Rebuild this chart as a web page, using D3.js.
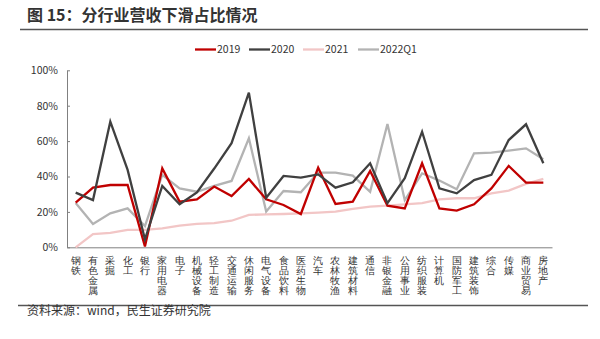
<!DOCTYPE html>
<html><head><meta charset="utf-8">
<script src="https://cdn.jsdelivr.net/npm/d3@7"></script>
<style>body{margin:0;background:#fff;} svg{display:block;font-family:"Noto Sans CJK SC","Microsoft YaHei",sans-serif;}</style>
</head><body>
<svg id="c" width="600" height="339"></svg>
<script>
const categories = ["钢铁","有色金属","采掘","化工","银行","家用电器","电子","机械设备","轻工制造","交通运输","休闲服务","电气设备","食品饮料","医药生物","汽车","农林牧渔","建筑材料","通信","非银金融","公用事业","纺织服装","计算机","国防军工","建筑装饰","综合","传媒","商业贸易","房地产"];
const s2019 = [25.2,33.7,35.2,35.2,0.5,44.6,25.8,27.1,34.3,29.0,38.6,27.1,23.9,18.8,45.0,24.5,25.8,43.1,23.5,22.0,47.5,22.0,20.7,24.3,33.3,46.0,36.5,36.5];
const s2020 = [30.9,26.7,71.0,43.7,4.5,34.7,24.3,31.0,44.5,58.8,87.4,28.0,40.3,39.4,41.2,33.7,36.7,47.5,24.9,39.0,65.3,33.3,30.5,38.0,40.9,60.6,69.5,47.5];
const s2021 = [0,7.5,8.1,9.8,9.8,10.7,12.2,13.2,13.6,15.0,18.3,18.6,18.8,19.2,19.6,20.2,21.7,23.0,23.5,24.3,24.9,27.1,27.7,27.7,30.5,32.0,35.8,38.6];
const s2022Q1 = [25.0,13.2,19.2,22.0,12.0,40.9,33.3,31.4,34.7,37.5,61.6,20.2,31.8,31.1,42.2,42.2,40.5,31.4,69.7,26.7,41.8,37.7,32.8,53.1,53.5,54.6,55.9,49.7];
const seriesNames = ["2019","2020","2021","2022Q1"];
const seriesColors = ["#C00000","#404040","#F2C6C6","#B3B3B3"];
const yTicks = [0,20,40,60,80,100];

const svg = d3.select("#c");
const allSeries = [s2019,s2020,s2021,s2022Q1];

// title
svg.append("text").attr("x",27).attr("y",21).attr("font-size",16).attr("font-weight","bold").attr("fill","#333")
  .text("图 15：分行业营收下滑占比情况");
svg.append("line").attr("x1",20).attr("x2",588).attr("y1",29.5).attr("y2",29.5).attr("stroke","#555").attr("stroke-width",1.3);
svg.append("line").attr("x1",18).attr("x2",588).attr("y1",305.5).attr("y2",305.5).attr("stroke","#555").attr("stroke-width",1.3);
svg.append("text").attr("x",27).attr("y",315).attr("font-size",12).attr("fill","#333")
  .text("资料来源：wind，民生证券研究院");

const x = d3.scaleBand().domain(categories).range([67,552]);
const y = d3.scaleLinear().domain([0,100]).range([247.3,70.3]);

// y axis
const ya = svg.append("g").attr("transform","translate(67,0)")
  .call(d3.axisLeft(y).tickValues(yTicks).tickFormat(d=>d+"%").tickSizeInner(-3).tickSizeOuter(0).tickPadding(9));
ya.select(".domain").attr("stroke","#808080");
ya.selectAll(".tick line").attr("stroke","#808080");
ya.selectAll("text").attr("font-size",10.5).attr("fill","#333").attr("font-family","Noto Sans CJK SC, sans-serif");

// x axis
const xa = svg.append("g").attr("transform","translate(0,247.3)")
  .call(d3.axisBottom(x).tickSize(0).tickFormat(""));
xa.select(".domain").attr("stroke","#808080");
xa.selectAll(".tick").each(function(d){
  const t = d3.select(this).append("text").attr("font-size",10).attr("fill","#333").attr("text-anchor","middle");
  Array.from(d).forEach((ch,i)=>{
    t.append("tspan").attr("x",0).attr("y",17+i*9.8).text(ch);
  });
});

// lines
const line = d3.line().x((d,i)=>x(categories[i])+x.bandwidth()/2).y(d=>y(d));
[2,3,0,1].forEach(k=>{
  svg.append("path").datum(allSeries[k]).attr("d",line).attr("fill","none")
    .attr("stroke",seriesColors[k]).attr("stroke-width",2.3).attr("stroke-linejoin","miter");
});

// legend
const legX = [195,249,303,358];
seriesNames.forEach((n,i)=>{
  svg.append("line").attr("x1",legX[i]).attr("x2",legX[i]+21).attr("y1",49.5).attr("y2",49.5)
    .attr("stroke",seriesColors[i]).attr("stroke-width",2.3);
  svg.append("text").attr("x",legX[i]+22).attr("y",53).attr("font-size",10.5).attr("fill","#333").text(n);
});
</script>
</body></html>
